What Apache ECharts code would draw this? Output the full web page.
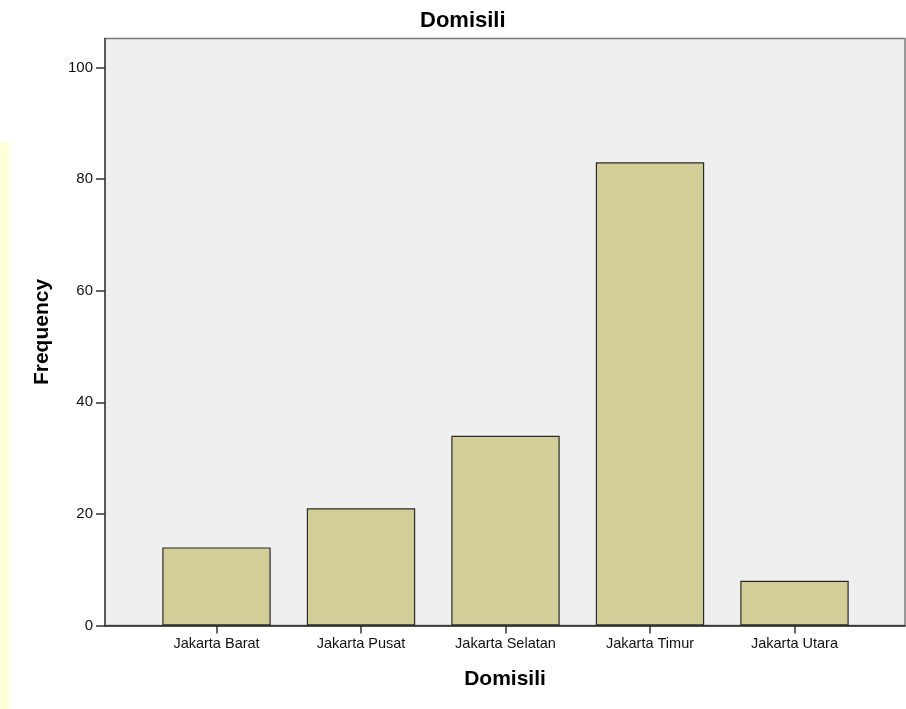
<!DOCTYPE html>
<html><head><meta charset="utf-8">
<script src="https://cdn.jsdelivr.net/npm/echarts@6/dist/echarts.min.js"></script>
<style>html,body{margin:0;padding:0;background:#fff}#c{width:906px;height:709px}</style>
</head><body><div id="c"></div>
<script>
const categories = ['Jakarta Barat', 'Jakarta Pusat', 'Jakarta Selatan', 'Jakarta Timur', 'Jakarta Utara'];
const frequency = [14, 21, 34, 83, 8];
const yTicks = [0, 20, 40, 60, 80, 100];

const chart = echarts.init(document.getElementById('c'), null, {renderer: 'canvas'});
const font = '"Liberation Sans", Arial, sans-serif';
const yMax = 105.2;
chart.setOption({
  animation: false,
  backgroundColor: '#fff',
  graphic: [{type: 'rect', left: 0, top: 142, shape: {width: 9, height: 567}, style: {fill: '#ffffd8'}, silent: true, z: -10}],
  title: {text: 'Domisili', left: 415, top: 5,
    textStyle: {fontFamily: font, fontSize: 22, fontWeight: 'bold', color: '#000'}},
  grid: [
    {left: 105, right: 1, top: 38.5, bottom: 83.5, show: true, backgroundColor: '#efefef', borderColor: '#7a7a7a', borderWidth: 1.5},
    {left: 144.25, width: 722.5, top: 38.5, bottom: 83.5}
  ],
  xAxis: [
    {type: 'value', gridIndex: 0, min: 0, max: 1, show: true, axisLine: {show: true, onZero: false, lineStyle: {color: '#222', width: 1.5}},
      axisTick: {show: false}, axisLabel: {show: false}, splitLine: {show: false},
      name: 'Domisili', nameLocation: 'middle', nameGap: 43,
      nameTextStyle: {fontFamily: font, fontSize: 21, fontWeight: 'bold', color: '#000'}},
    {type: 'category', gridIndex: 1, data: categories, boundaryGap: true,
      axisLine: {show: false}, axisTick: {show: true, alignWithLabel: true, length: 8, lineStyle: {color: '#333', width: 1.5}},
      axisLabel: {fontFamily: font, fontSize: 14.5, color: '#111', margin: 11}}
  ],
  yAxis: [
    {type: 'value', gridIndex: 0, min: 0, max: yMax, interval: 20,
      axisLine: {show: true, lineStyle: {color: '#444', width: 1.5}},
      axisTick: {show: true, length: 9, lineStyle: {color: '#333', width: 1.5}},
      axisLabel: {fontFamily: font, fontSize: 15, color: '#111', margin: 12, showMaxLabel: false,
        formatter: v => yTicks.includes(v) ? String(v) : ''},
      splitLine: {show: false},
      name: 'Frequency', nameLocation: 'middle', nameGap: 52, nameRotate: 90,
      nameTextStyle: {fontFamily: font, fontSize: 21, fontWeight: 'bold', color: '#000'}},
    {type: 'value', gridIndex: 1, min: 0, max: yMax, show: false}
  ],
  series: [{
    type: 'bar', xAxisIndex: 1, yAxisIndex: 1, data: frequency, barWidth: '75%',
    itemStyle: {color: '#d3ce97', borderColor: '#2a2a2a', borderWidth: 1.2}
  }]
});
</script></body></html>
